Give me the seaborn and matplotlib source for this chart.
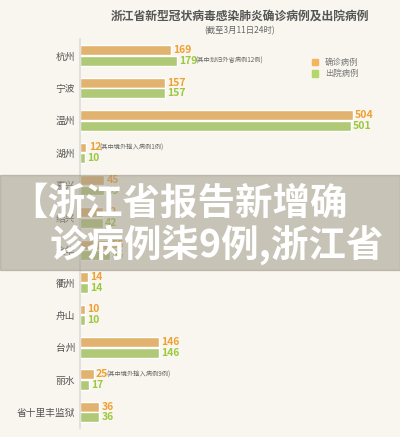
import matplotlib.pyplot as plt
import matplotlib.patches as mpatches
import pandas as pd
import seaborn as sns

cities = ['杭州', '宁波', '温州', '湖州', '嘉兴', '绍兴', '金华', '衢州', '舟山', '台州', '丽水', '省十里丰监狱']
confirmed = [169, 157, 504, 12, 45, 42, 55, 14, 10, 146, 25, 36]
discharged = [179, 157, 501, 10, 45, 42, 55, 14, 10, 146, 17, 36]
notes = {('杭州', '出院病例'): '(其中划归外省病例12例)',
         ('湖州', '确诊病例'): '(其中境外输入病例1例)',
         ('丽水', '确诊病例'): '(其中境外输入病例9例)'}

ORANGE = '#f5b55c'
GREEN = '#b5d66a'
BG = '#f8f6ef'

df = pd.DataFrame({
    'city': cities * 2,
    'value': confirmed + discharged,
    'kind': ['确诊病例'] * len(cities) + ['出院病例'] * len(cities),
})

sns.set_theme(style='white')
plt.rcParams['font.family'] = ['Noto Sans CJK SC', 'DejaVu Sans']

fig = plt.figure(figsize=(4, 4.37), dpi=100, facecolor=BG)
ax = fig.add_axes([0.2, 0.02, 0.73, 0.89], facecolor=BG)
sns.barplot(data=df, y='city', x='value', hue='kind', orient='h',
            palette=[ORANGE, GREEN], width=0.66, gap=0.08, ax=ax, legend=False)

for cont, kind in zip(ax.containers, ['确诊病例', '出院病例']):
    color = '#f0a030' if kind == '确诊病例' else '#9cc840'
    for bar, city in zip(cont, cities):
        w = bar.get_width()
        y = bar.get_y() + bar.get_height() / 2
        ax.text(w + 4, y, str(int(w)), va='center', ha='left', fontsize=7.5,
                fontweight='bold', fontstyle='italic', color=color)
        note = notes.get((city, kind))
        if note:
            ax.text(w + 4 + 10 * len(str(int(w))), y, note, va='center',
                    ha='left', fontsize=4.5, color='#666666')

ax.set_xlim(0, 540)
ax.set_xlabel('')
ax.set_ylabel('')
ax.set_xticks([])
ax.tick_params(axis='y', length=0, labelsize=7, labelcolor='#555555')
sns.despine(ax=ax, left=False, bottom=True)
ax.spines['left'].set_color('#dddddd')

fig.text(0.6, 0.955, '浙江省新型冠状病毒感染肺炎确诊病例及出院病例', ha='center',
         fontsize=8.5, fontweight='bold', fontstyle='italic', color='#555555')
fig.text(0.6, 0.925, '(截至3月11日24时)', ha='center', fontsize=6, color='#666666')

handles = [mpatches.Patch(color=ORANGE, label='确诊病例'),
           mpatches.Patch(color=GREEN, label='出院病例')]
fig.legend(handles=handles, loc='upper left', bbox_to_anchor=(0.76, 0.885),
           frameon=False, fontsize=6, handlelength=0.8, handleheight=0.8,
           labelcolor='#777777', labelspacing=0.3)

band = mpatches.Rectangle((0, 0.382), 1, 0.218, transform=fig.transFigure,
                          color='#a09a88', alpha=0.55, zorder=5)
fig.patches.append(band)
fig.text(0.025, 0.535, '【浙江省报告新增确', fontsize=27, fontweight='bold',
         color='white', va='center', zorder=6)
fig.text(0.125, 0.44, '诊病例柒9例,浙江省', fontsize=27, fontweight='bold',
         color='white', va='center', zorder=6)

fig.savefig('out.png', dpi=100, facecolor=BG)
